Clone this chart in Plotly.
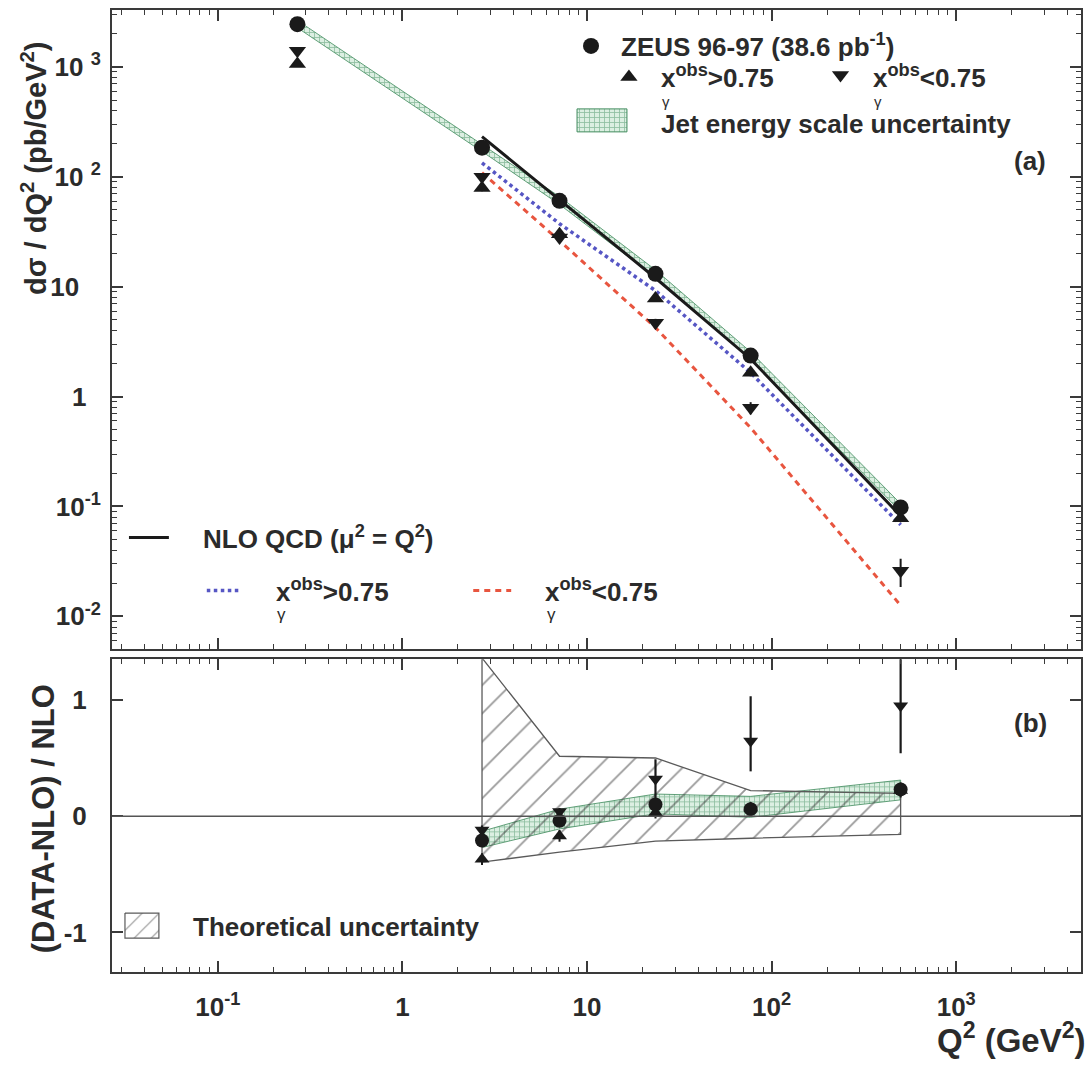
import plotly.graph_objects as go

# ---------------- data ----------------
q2_all = [0.27, 2.7, 7.1, 23.5, 77, 500]          # bin centres, GeV^2
q2_nlo = [2.7, 7.1, 23.5, 77, 500]

# panel (a): dsigma/dQ2 (pb/GeV^2)
data_all = [2450, 184, 60.5, 13.1, 2.36, 0.098]
data_all_err = [60, 6, 2, 0.4, 0.08, 0.005]
data_hi = [1065, 79, 30, 7.8, 1.65, 0.078]        # x_gamma^obs > 0.75
data_hi_err = [50, 5, 2, 0.5, 0.12, 0.006]
data_lo = [1400, 100, 28, 4.7, 0.79, 0.026]       # x_gamma^obs < 0.75
data_lo_err = [60, 6, 2, 0.4, 0.1, 0.0075]

jes_lo_a = [2270, 170, 56, 12.1, 2.18, 0.090]
jes_hi_a = [2650, 198, 66, 14.2, 2.55, 0.106]

nlo_all = [232, 62, 12.0, 2.2, 0.082]
nlo_hi = [134, 37.4, 9.2, 1.65, 0.068]
nlo_lo = [109, 26.2, 4.24, 0.52, 0.0126]

# panel (b): (DATA-NLO)/NLO
rel_all = [-0.21, -0.04, 0.10, 0.06, 0.23]
rel_all_err = [0.04, 0.04, 0.04, 0.05, 0.06]
rel_hi = [-0.37, -0.17, 0.03, 0.07, 0.22]
rel_hi_err = [0.05, 0.05, 0.05, 0.05, 0.06]
rel_lo = [-0.12, 0.04, 0.32, 0.645, 0.95]
rel_lo_err_plus = [0.04, 0.03, 0.17, 0.385, 0.45]
rel_lo_err_minus = [0.05, 0.05, 0.20, 0.26, 0.41]

jes_lo_b = [-0.27, -0.11, 0.02, -0.01, 0.14]
jes_hi_b = [-0.13, 0.06, 0.19, 0.17, 0.31]

theo_hi_b = [1.36, 0.515, 0.50, 0.22, 0.195]
theo_lo_b = [-0.395, -0.31, -0.215, -0.19, -0.157]

x_tickvals = [0.1, 1, 10, 100, 1000]
x_ticktext = ["<b>10<sup>-1</sup></b>", "<b>1</b>", "<b>10</b>", "<b>10<sup>2</sup></b>", "<b>10<sup>3</sup></b>"]
ya_tickvals = [0.01, 0.1, 1, 10, 100, 1000]
ya_ticktext = ["<b>10<sup>-2</sup></b>", "<b>10<sup>-1</sup></b>", "<b>1\u00a0\u00a0</b>",
               "<b>10\u00a0\u00a0\u00a0</b>", "<b>10 <sup>2</sup></b>", "<b>10 <sup>3</sup></b>"]
yb_tickvals = [-1, 0, 1]
yb_ticktext = ["<b>-1</b>", "<b>0</b>", "<b>1</b>"]

# ---------------- styles ----------------
INK = "#2b2b2b"
FONT = "Liberation Sans"
GREEN_FG = "#3f8a5c"
GREEN_BG = "#dcefe2"
RED = "#e8553f"
BLUE = "#5656c4"

fig = go.Figure()

# minor tick positions for log axes
minor_x = [m * 10 ** e for e in range(-2, 4) for m in range(2, 10)]
minor_y = [m * 10 ** e for e in range(-3, 4) for m in range(2, 10)]

# ---- panel (a) ----
fig.add_trace(go.Scatter(
    x=q2_all + q2_all[::-1], y=jes_hi_a + jes_lo_a[::-1],
    fill="toself", mode="lines", line=dict(color=GREEN_FG, width=0.8),
    fillcolor=GREEN_BG,
    fillpattern=dict(shape="+", fgcolor=GREEN_FG, bgcolor=GREEN_BG, size=5, solidity=0.3),
    xaxis="x", yaxis="y", showlegend=False, hoverinfo="skip"))
fig.add_trace(go.Scatter(x=q2_nlo, y=nlo_lo, mode="lines",
                         line=dict(color=RED, width=3, dash="6px,5px"),
                         xaxis="x", yaxis="y", showlegend=False))
fig.add_trace(go.Scatter(x=q2_nlo, y=nlo_hi, mode="lines",
                         line=dict(color=BLUE, width=3.5, dash="dot"),
                         xaxis="x", yaxis="y", showlegend=False))
fig.add_trace(go.Scatter(x=q2_nlo, y=nlo_all, mode="lines",
                         line=dict(color="#1a1a1a", width=3),
                         xaxis="x", yaxis="y", showlegend=False))
fig.add_trace(go.Scatter(x=q2_all, y=data_hi, mode="markers",
                         marker=dict(symbol="triangle-up", size=15, color="#1a1a1a"),
                         error_y=dict(type="data", array=data_hi_err, color="#1a1a1a", thickness=2, width=0),
                         xaxis="x", yaxis="y", showlegend=False))
fig.add_trace(go.Scatter(x=q2_all, y=data_lo, mode="markers",
                         marker=dict(symbol="triangle-down", size=15, color="#1a1a1a"),
                         error_y=dict(type="data", array=data_lo_err, color="#1a1a1a", thickness=2, width=0),
                         xaxis="x", yaxis="y", showlegend=False))
fig.add_trace(go.Scatter(x=q2_all, y=data_all, mode="markers",
                         marker=dict(symbol="circle", size=16, color="#1a1a1a"),
                         error_y=dict(type="data", array=data_all_err, color="#1a1a1a", thickness=2, width=0),
                         xaxis="x", yaxis="y", showlegend=False))

# ---- panel (b) ----
fig.add_trace(go.Scatter(
    x=q2_nlo + q2_nlo[::-1], y=jes_hi_b + jes_lo_b[::-1],
    fill="toself", mode="lines", line=dict(color=GREEN_FG, width=0.8),
    fillcolor=GREEN_BG,
    fillpattern=dict(shape="+", fgcolor=GREEN_FG, bgcolor=GREEN_BG, size=5, solidity=0.3),
    xaxis="x2", yaxis="y2", showlegend=False, hoverinfo="skip"))
fig.add_trace(go.Scatter(
    x=q2_nlo + q2_nlo[::-1] + [q2_nlo[0]], y=theo_hi_b + theo_lo_b[::-1] + [theo_hi_b[0]],
    fill="toself", mode="lines", line=dict(color="#5a5a5a", width=1.3),
    fillcolor="rgba(0,0,0,0)",
    fillpattern=dict(shape="/", fgcolor="#333333", bgcolor="rgba(0,0,0,0)", size=20, solidity=0.09),
    xaxis="x2", yaxis="y2", showlegend=False, hoverinfo="skip"))
fig.add_trace(go.Scatter(x=q2_nlo, y=rel_hi, mode="markers",
                         marker=dict(symbol="triangle-up", size=13, color="#1a1a1a"),
                         error_y=dict(type="data", array=rel_hi_err, color="#1a1a1a", thickness=2, width=0),
                         xaxis="x2", yaxis="y2", showlegend=False))
fig.add_trace(go.Scatter(x=q2_nlo, y=rel_lo, mode="markers",
                         marker=dict(symbol="triangle-down", size=13, color="#1a1a1a"),
                         error_y=dict(type="data", symmetric=False, array=rel_lo_err_plus,
                                      arrayminus=rel_lo_err_minus, color="#1a1a1a", thickness=2.2, width=0),
                         xaxis="x2", yaxis="y2", showlegend=False))
fig.add_trace(go.Scatter(x=q2_nlo, y=rel_all, mode="markers",
                         marker=dict(symbol="circle", size=14, color="#1a1a1a"),
                         error_y=dict(type="data", array=rel_all_err, color="#1a1a1a", thickness=2, width=0),
                         xaxis="x2", yaxis="y2", showlegend=False))

# ---- legend glyphs on an invisible pixel-space overlay axis ----
leg = dict(xaxis="x3", yaxis="y3", showlegend=False, hoverinfo="skip", cliponaxis=False)
fig.add_trace(go.Scatter(x=[592], y=[45], mode="markers",
                         marker=dict(symbol="circle", size=16, color="#1a1a1a"), **leg))
fig.add_trace(go.Scatter(x=[630], y=[76], mode="markers",
                         marker=dict(symbol="triangle-up", size=15, color="#1a1a1a"), **leg))
fig.add_trace(go.Scatter(x=[842], y=[74], mode="markers",
                         marker=dict(symbol="triangle-down", size=15, color="#1a1a1a"), **leg))
fig.add_trace(go.Scatter(x=[578, 628, 628, 578, 578], y=[108, 108, 131, 131, 108],
                         fill="toself", mode="lines", line=dict(color=GREEN_FG, width=1),
                         fillcolor=GREEN_BG,
                         fillpattern=dict(shape="+", fgcolor=GREEN_FG, bgcolor=GREEN_BG, size=5, solidity=0.3),
                         **leg))
fig.add_trace(go.Scatter(x=[129, 169], y=[537, 537], mode="lines",
                         line=dict(color="#1a1a1a", width=3), **leg))
fig.add_trace(go.Scatter(x=[207, 242], y=[590, 590], mode="lines",
                         line=dict(color=BLUE, width=3.5, dash="dot"), **leg))
fig.add_trace(go.Scatter(x=[474, 512], y=[590, 590], mode="lines",
                         line=dict(color=RED, width=3, dash="6px,5px"), **leg))
fig.add_trace(go.Scatter(x=[125, 159, 159, 125, 125], y=[913, 913, 938, 938, 913],
                         fill="toself", mode="lines", line=dict(color="#5a5a5a", width=1.2),
                         fillcolor="rgba(0,0,0,0)",
                         fillpattern=dict(shape="/", fgcolor="#333333", bgcolor="rgba(0,0,0,0)", size=12, solidity=0.1),
                         **leg))

# ---------------- axes ----------------
common = dict(showline=True, linecolor="#3a3a3a", linewidth=2, mirror="ticks",
              ticks="inside", ticklen=11, tickwidth=1.6, tickcolor="#3a3a3a",
              showgrid=False, zeroline=False,
              tickfont=dict(family=FONT, size=26, color=INK))

fig.update_layout(
    width=1091, height=1065,
    margin=dict(l=112, r=8, t=9, b=93),
    paper_bgcolor="white", plot_bgcolor="rgba(0,0,0,0)",
    font=dict(family=FONT, color=INK),
    xaxis=dict(type="log", range=[-1.573, 3.676], domain=[0, 1], anchor="y",
               tickmode="array", tickvals=x_tickvals, ticktext=x_ticktext, showticklabels=False,
               minor=dict(tickmode="array", tickvals=minor_x, ticks="inside", ticklen=5,
                          tickwidth=1.3, tickcolor="#3a3a3a", showgrid=False),
               **common),
    yaxis=dict(type="log", range=[-2.3, 3.518], domain=[0.3354, 1], anchor="x",
               tickmode="array", tickvals=ya_tickvals, ticktext=ya_ticktext,
               ticklabelstandoff=4,
               minor=dict(tickmode="array", tickvals=minor_y, ticks="inside", ticklen=5,
                          tickwidth=1.3, tickcolor="#3a3a3a", showgrid=False),
               **common),
    xaxis2=dict(type="log", range=[-1.573, 3.676], domain=[0, 1], anchor="y2", matches="x",
                tickmode="array", tickvals=x_tickvals, ticktext=x_ticktext,
                ticklabelstandoff=11,
                minor=dict(tickmode="array", tickvals=minor_x, ticks="inside", ticklen=5,
                           tickwidth=1.3, tickcolor="#3a3a3a", showgrid=False),
                **common),
    yaxis2=dict(range=[-1.34, 1.348], domain=[0, 0.325], anchor="x2",
                tickmode="array", tickvals=yb_tickvals, ticktext=yb_ticktext,
                ticklabelstandoff=18, **common),
    xaxis3=dict(range=[112, 1083], domain=[0, 1], anchor="y3", visible=False, fixedrange=True),
    yaxis3=dict(range=[972, 9], domain=[0, 1], anchor="x3", visible=False, fixedrange=True),
)

# zero line in panel (b)
fig.add_shape(type="line", xref="x2 domain", yref="y2", x0=0, x1=1, y0=0, y1=0,
              line=dict(color="#555555", width=1.5))

# ---------------- text ----------------
def txt(x, y, s, size=26, xanchor="left", angle=0):
    fig.add_annotation(x=x, y=y, xref="x3", yref="y3", text=s, showarrow=False,
                       xanchor=xanchor, yanchor="middle", textangle=angle,
                       font=dict(family=FONT, size=size, color=INK))

# texts outside the plotting area: pixel position -> paper fraction
def ptxt(px, py, s, size=31, xanchor="center", angle=0):
    fig.add_annotation(x=(px - 112) / 971, y=(972 - py) / 963, xref="paper", yref="paper",
                       text=s, showarrow=False, xanchor=xanchor, yanchor="middle",
                       textangle=angle, font=dict(family=FONT, size=size, color=INK))

B = lambda s: "<b>" + s + "</b>"
txt(620, 45, B("ZEUS 96-97 (38.6 pb<sup>-1</sup>)"))
txt(660, 76, B("x<sup>obs</sup>&gt;0.75"))
txt(667, 101, "γ", size=15, xanchor="center")
txt(873, 76, B("x<sup>obs</sup>&lt;0.75"))
txt(880, 101, "γ", size=15, xanchor="center")
txt(660, 123, B("Jet energy scale uncertainty"))
txt(1050, 160, B("(a)"), xanchor="right")
txt(201, 537, B("NLO QCD (μ<sup>2</sup> = Q<sup>2</sup>)"))
txt(274, 590, B("x<sup>obs</sup>&gt;0.75"))
txt(282, 614, "γ", size=17, xanchor="center")
txt(544, 590, B("x<sup>obs</sup>&lt;0.75"))
txt(552, 614, "γ", size=17, xanchor="center")
txt(1051, 723, B("(b)"), xanchor="right")
txt(191, 927, B("Theoretical uncertainty"))
ptxt(34, 168, B("dσ / dQ<sup>2</sup> (pb/GeV<sup>2</sup>)"), size=29, angle=-90)
ptxt(43, 819, B("(DATA-NLO) / NLO"), size=31, angle=-90)
ptxt(1090, 1038, B("Q<sup>2</sup> (GeV<sup>2</sup>)"), size=33, xanchor="right")

fig.write_html("out.html")
